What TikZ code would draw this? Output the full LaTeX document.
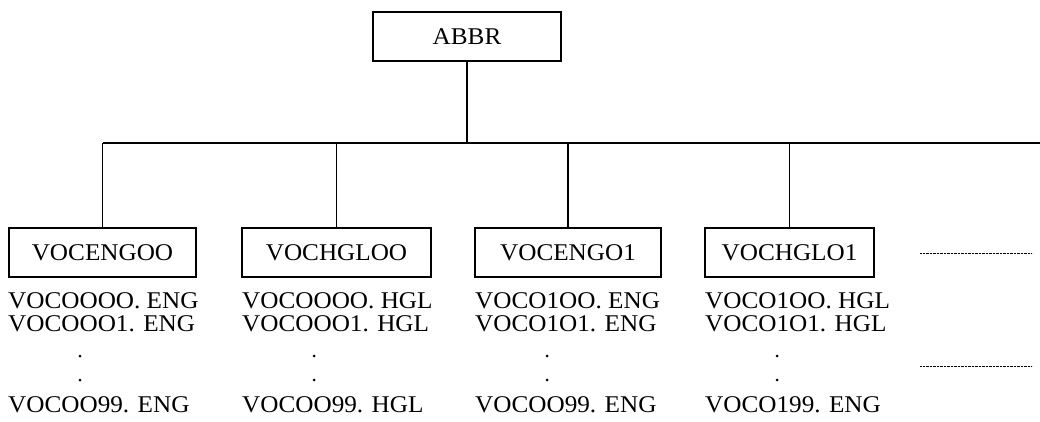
\documentclass[tikz,border=0pt]{standalone}
\usepackage{fontspec}
\setmainfont[FakeStretch=1.05]{Liberation Serif}
\begin{document}
\begin{tikzpicture}[x=1pt,y=-1pt,
    dirbox/.style={draw, line width=1.1pt, minimum height=49pt, inner sep=0pt,
        font=\fontsize{24}{28}\selectfont},
    fname/.style={anchor=base west, inner sep=0pt, font=\fontsize{24}{28}\selectfont},
    fdot/.style={circle, fill, inner sep=0pt, minimum size=3pt},
    link/.style={line width=1.1pt}]
    \useasboundingbox (0,0) rectangle (1040,422);

    %Root directory
    \node[dirbox, minimum width=188pt] (abbr) at (467,36.5) {ABBR};

    %Sub directories with their files
    \foreach \n/\cx/\w/\tx/\lbl/\fa/\fb/\fz in {
        1/102.5/187/8/VOCENGOO/VOCOOOO. ENG/VOCOOO1. ENG/VOCOO99. ENG,
        2/336.5/189/242/VOCHGLOO/VOCOOOO. HGL/VOCOOO1. HGL/VOCOO99. HGL,
        3/568/186/475/VOCENGO1/VOCO1OO. ENG/VOCO1O1. ENG/VOCOO99. ENG,
        4/789.5/169/705/VOCHGLO1/VOCO1OO. HGL/VOCO1O1. HGL/VOCO199. ENG}{
        \node[dirbox, minimum width=\w pt] (d\n) at (\cx,252.5) {\lbl};
        \node[fname] (f\n a) at (\tx,308) {\fa};
        \node[fname] (f\n b) at (\tx,331) {\fb};
        \node[fdot] (f\n p) at (\tx+72,356) {};
        \node[fdot] (f\n q) at (\tx+72,380) {};
        \node[fname] (f\n z) at (\tx,412) {\fz};
    }

    %Bus from the root to the sub directories
    \coordinate (busend) at (1040,143);
    \draw[link] (abbr.south) -- (abbr.south |- busend);
    \draw[link] (d1.north |- busend) -- (busend);
    \foreach \n in {1,...,4}
        \draw[link] (d\n.north) -- (d\n.north |- busend);

    %More directories follow
    \coordinate (moreA) at (920,253);
    \coordinate (moreB) at (1032,253);
    \coordinate (moreC) at (920,366);
    \coordinate (moreD) at (1032,366);
    \draw[densely dotted, thin] (moreA) -- (moreB);
    \draw[densely dotted, thin] (moreC) -- (moreD);
\end{tikzpicture}
\end{document}
